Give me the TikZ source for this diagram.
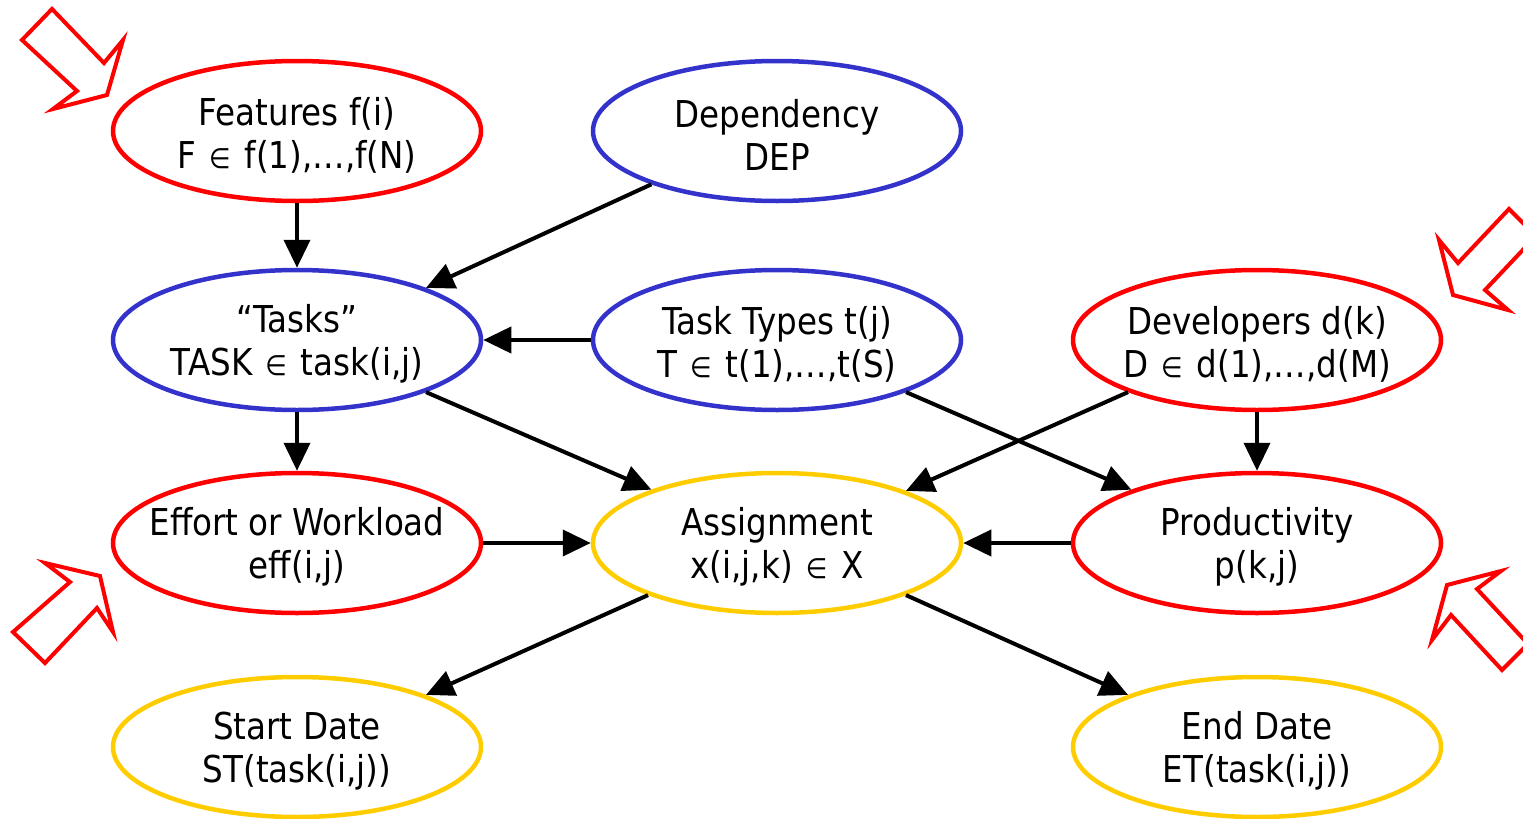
\documentclass[tikz,border=0pt]{standalone}
\usepackage{fontspec}
\setmainfont{DejaVu Sans}[FakeStretch=0.88]
\usetikzlibrary{shapes.geometric,arrows.meta}
\definecolor{myred}{HTML}{FF0000}
\definecolor{myblue}{HTML}{3333CC}
\definecolor{myyellow}{HTML}{FFCC00}
\newcommand{\elem}{\hspace{13pt}{\fontsize{28}{28}\selectfont ∈}\hspace{14pt}}
\tikzset{
  ell/.style={ellipse, draw, line width=4.5pt, minimum width=368pt, minimum height=140pt,
    inner sep=0pt},
  txt/.style={align=center, font=\fontsize{37}{43}\selectfont, inner sep=0pt, yshift=-4pt},
  redell/.style={ell, draw=myred},
  blueell/.style={ell, draw=myblue},
  yelell/.style={ell, draw=myyellow},
  conn/.style={line width=4pt, -{Triangle[length=28pt,width=26pt]}},
  hollow/.style={draw=myred, line width=4pt, line join=miter}
}
\begin{document}
\begin{tikzpicture}[x=1pt,y=-1pt]
\useasboundingbox (0,0) rectangle (1523,819);
\clip (0,0) rectangle (1523,819);
\node[redell, label={[txt]center:{Features f(i)\\F\elem f(1),…,f(N)}}] (feat) at (297,131) {};
\node[blueell, label={[txt]center:{Dependency\\DEP}}] (dep) at (777,131) {};
\node[blueell, label={[txt]center:{“Tasks”\\TASK\elem task(i,j)}}] (tasks) at (297,340) {};
\node[blueell, label={[txt]center:{Task Types t(j)\\T\elem t(1),…,t(S)}}] (types) at (777,340) {};
\node[redell, label={[txt]center:{Developers d(k)\\D\elem d(1),…,d(M)}}] (dev) at (1257,340) {};
\node[redell, label={[txt]center:{Effort or Workload\\eff(i,j)}}] (eff) at (297,543) {};
\node[yelell, label={[txt]center:{Assignment\\x(i,j,k)\elem X}}] (asg) at (777,543) {};
\node[redell, label={[txt]center:{Productivity\\p(k,j)}}] (prod) at (1257,543) {};
\node[yelell, label={[txt]center:{Start Date\\ST(task(i,j))}}] (start) at (297,747) {};
\node[yelell, label={[txt]center:{End Date\\ET(task(i,j))}}] (end) at (1257,747) {};

\draw[conn] (feat.south) -- (tasks.north);
\draw[conn] (dep.203) -- (tasks.22);
\draw[conn] (types.west) -- (tasks.east);
\draw[conn] (tasks.south) -- (eff.north);
\draw[conn] (tasks.-22) -- (asg.157.6);
\draw[conn] (types.-22.7) -- (prod.157.6);
\draw[conn] (dev.202.4) -- (asg.22.4);
\draw[conn] (dev.south) -- (prod.north);
\draw[conn] (eff.east) -- (asg.west);
\draw[conn] (prod.west) -- (asg.east);
\draw[conn] (asg.202.4) -- (start.22);
\draw[conn] (asg.-22.7) -- (end.158);

\draw[hollow] (22,40) -- (52,9) -- (104,63) -- (123,40) -- (107,95) -- (53,109) -- (77,91) -- cycle;
\draw[hollow] (1509,209) -- (1458,263) -- (1439,240) -- (1453,295) -- (1508,310) -- (1485,290) -- (1536,236) -- cycle;
\draw[hollow] (13,632) -- (70,582) -- (45,563) -- (100,576) -- (113,632) -- (97,608) -- (45,663) -- cycle;
\draw[hollow] (1502,670) -- (1451,615) -- (1432,640) -- (1447,585) -- (1501,571) -- (1477,589) -- (1528,644) -- cycle;
\end{tikzpicture}
\end{document}
